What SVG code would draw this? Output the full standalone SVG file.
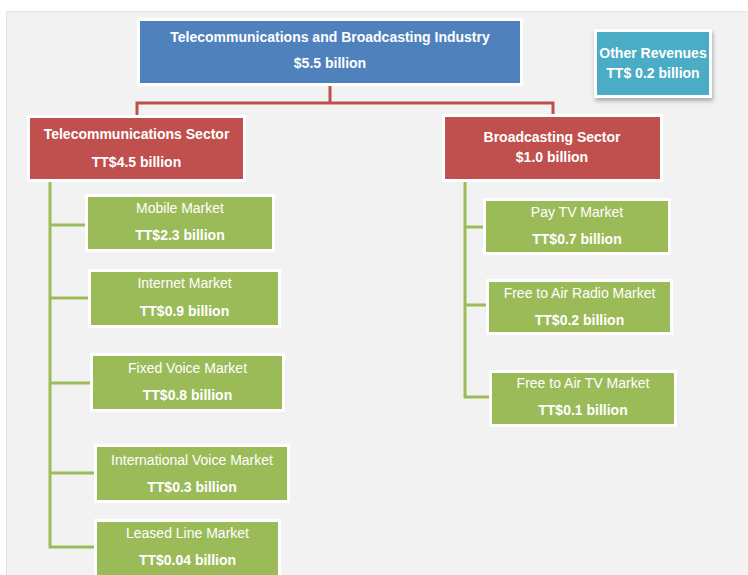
<svg xmlns="http://www.w3.org/2000/svg" width="748" height="575" viewBox="0 0 748 575">
<style>
.box{stroke:#ffffff;stroke-width:3}
.blue{fill:#4f81bd}
.red{fill:#c0504d}
.green{fill:#9bbb59}
.teal{fill:#4bacc6}
text{font-family:"Liberation Sans",Arial,sans-serif;font-size:14px;fill:#ffffff;text-anchor:middle}
.b{font-weight:bold}
.redline{fill:none;stroke:#c0504d;stroke-width:3}
.greenline{fill:none;stroke:#9bbb59;stroke-width:3}
</style>
<defs>
<filter id="sh" x="-20%" y="-20%" width="150%" height="150%">
<feDropShadow dx="1" dy="3" stdDeviation="2" flood-color="#000000" flood-opacity="0.3"/>
</filter>
</defs>
<rect x="0" y="0" width="748" height="575" fill="#ffffff"/>
<rect x="6.5" y="11.5" width="745" height="570" fill="#f2f2f2" stroke="#e6e4da" stroke-width="1"/>
<g id="connectors">
<path class="redline" d="M330,86 V103 M137,115 V103 H553 V114"/>
<path class="greenline" d="M50,182 V547 H95 M50,225 H86 M50,298 H89 M50,383 H91 M50,473 H95"/>
<path class="greenline" d="M465,182 V397 H490 M465,227 H484 M465,305 H487"/>
</g>
<g id="industry">
<rect class="box blue" x="138.5" y="19.5" width="383" height="65"/>
<text class="b" x="330" y="42">Telecommunications and Broadcasting Industry</text>
<text class="b" x="330" y="68">$5.5 billion</text>
</g>
<g id="other-revenues">
<rect class="box teal" x="595.5" y="30.5" width="115" height="66" filter="url(#sh)"/>
<text class="b" x="653" y="58">Other Revenues</text>
<text class="b" x="653" y="78">TT$ 0.2 billion</text>
</g>
<g id="telecom-sector">
<rect class="box red" x="28.5" y="116.5" width="216" height="64"/>
<text class="b" x="136.5" y="139">Telecommunications Sector</text>
<text class="b" x="136.5" y="167">TT$4.5 billion</text>
</g>
<g id="broadcasting-sector">
<rect class="box red" x="443.5" y="115.5" width="218" height="65"/>
<text class="b" x="552" y="142">Broadcasting Sector</text>
<text class="b" x="552" y="162">$1.0 billion</text>
</g>
<g id="mobile">
<rect class="box green" x="86.5" y="195.5" width="187" height="55"/>
<text x="180" y="213">Mobile Market</text>
<text class="b" x="180" y="240">TT$2.3 billion</text>
</g>
<g id="internet">
<rect class="box green" x="89.5" y="270.5" width="190" height="56"/>
<text x="184.5" y="288">Internet Market</text>
<text class="b" x="184.5" y="316">TT$0.9 billion</text>
</g>
<g id="fixed-voice">
<rect class="box green" x="91.5" y="354.5" width="192" height="56"/>
<text x="187.5" y="373">Fixed Voice Market</text>
<text class="b" x="187.5" y="400">TT$0.8 billion</text>
</g>
<g id="international-voice">
<rect class="box green" x="95.5" y="445.5" width="193" height="56"/>
<text x="192" y="465">International Voice Market</text>
<text class="b" x="192" y="492">TT$0.3 billion</text>
</g>
<g id="leased-line">
<rect class="box green" x="95.5" y="520.5" width="184" height="60"/>
<text x="187.5" y="538">Leased Line Market</text>
<text class="b" x="187.5" y="565">TT$0.04 billion</text>
</g>
<g id="pay-tv">
<rect class="box green" x="484.5" y="199.5" width="185" height="54"/>
<text x="577" y="217">Pay TV Market</text>
<text class="b" x="577" y="244">TT$0.7 billion</text>
</g>
<g id="fta-radio">
<rect class="box green" x="487.5" y="280.5" width="184" height="53"/>
<text x="579.5" y="298">Free to Air Radio Market</text>
<text class="b" x="579.5" y="325">TT$0.2 billion</text>
</g>
<g id="fta-tv">
<rect class="box green" x="490.5" y="371.5" width="185" height="54"/>
<text x="583" y="388">Free to Air TV Market</text>
<text class="b" x="583" y="415">TT$0.1 billion</text>
</g>
</svg>
